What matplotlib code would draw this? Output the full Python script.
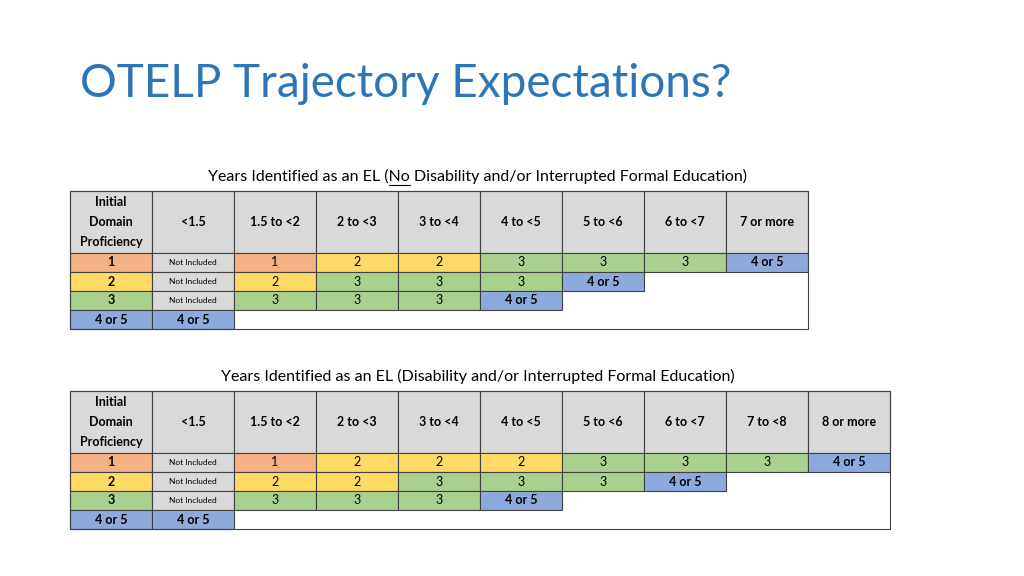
import matplotlib.pyplot as plt

FONT = "Lato"
COLORS = {"1": "#F4B183", "2": "#FFD966", "3": "#A9D08E", "4 or 5": "#8EA9DB"}
GRAY = "#D9D9D9"

t1_title_pre = "Years Identified as an EL ("
t1_title_ul = "No"
t1_title_post = " Disability and/or Interrupted Formal Education)"
t1_headers = ["<1.5", "1.5 to <2", "2 to <3", "3 to <4", "4 to <5", "5 to <6", "6 to <7", "7 or more"]
t1_rows = {
    "1": ["1", "2", "2", "3", "3", "3", "4 or 5"],
    "2": ["2", "3", "3", "3", "4 or 5"],
    "3": ["3", "3", "3", "4 or 5"],
}

t2_title = "Years Identified as an EL (Disability and/or Interrupted Formal Education)"
t2_headers = ["<1.5", "1.5 to <2", "2 to <3", "3 to <4", "4 to <5", "5 to <6", "6 to <7", "7 to <8", "8 or more"]
t2_rows = {
    "1": ["1", "2", "2", "2", "3", "3", "3", "4 or 5"],
    "2": ["2", "2", "3", "3", "3", "4 or 5"],
    "3": ["3", "3", "3", "4 or 5"],
}

fig = plt.figure(figsize=(10.24, 5.76), dpi=100)
ax = fig.add_axes([0, 0, 1, 1])
ax.set_xlim(0, 1024)
ax.set_ylim(576, 0)
ax.axis("off")

ax.text(80, 84, "OTELP Trajectory Expectations?", fontsize=33, color="#2E75B6",
        family=FONT, va="center", ha="left")


def cell(x, y, w, h, color, text, size=9, bold=False):
    ax.add_patch(plt.Rectangle((x, y), w, h, facecolor=color, edgecolor="#404040", lw=0.8))
    ax.text(x + w / 2, y + h / 2, text, ha="center", va="center", fontsize=size,
            family=FONT, fontweight="bold" if bold else "normal", linespacing=1.75)


def table(top, headers, rows):
    x0, cw, hh, rh = 70, 82, 62, 19
    ncols = len(headers) + 1
    cell(x0, top, cw, hh, GRAY, "Initial\nDomain\nProficiency", bold=True)
    for i, hd in enumerate(headers):
        cell(x0 + cw * (i + 1), top, cw, hh, GRAY, hd, bold=True)
    y = top + hh
    for key, vals in rows.items():
        cell(x0, y, cw, rh, COLORS[key], key, bold=True)
        cell(x0 + cw, y, cw, rh, GRAY, "Not Included", size=6)
        for j, v in enumerate(vals):
            cell(x0 + cw * (j + 2), y, cw, rh, COLORS[v], v, bold=(v == "4 or 5"))
        y += rh
    cell(x0, y, cw, rh, COLORS["4 or 5"], "4 or 5", bold=True)
    cell(x0 + cw, y, cw, rh, COLORS["4 or 5"], "4 or 5", bold=True)
    # outer border
    ax.add_patch(plt.Rectangle((x0, top), cw * ncols, hh + rh * 4, fill=False,
                               edgecolor="#404040", lw=0.8))


table(191, t1_headers, t1_rows)
table(391, t2_headers, t2_rows)

# first subtitle with underlined "No"
fig.canvas.draw()
r = fig.canvas.get_renderer()
full = t1_title_pre + t1_title_ul + t1_title_post
t = ax.text(478, 176, full, ha="center", va="center", fontsize=11.5, family=FONT)
bb = t.get_window_extent(r)
pre = ax.text(0, 0, t1_title_pre, fontsize=11.5, family=FONT)
ul = ax.text(0, 0, t1_title_ul, fontsize=11.5, family=FONT)
wpre = pre.get_window_extent(r).width
wul = ul.get_window_extent(r).width
pre.remove()
ul.remove()
xs = bb.x0 + wpre
ax.plot([xs, xs + wul], [185, 185], color="black", lw=0.8)

ax.text(478, 376, t2_title, ha="center", va="center", fontsize=11.5, family=FONT)

fig.savefig("out.png", dpi=100)
